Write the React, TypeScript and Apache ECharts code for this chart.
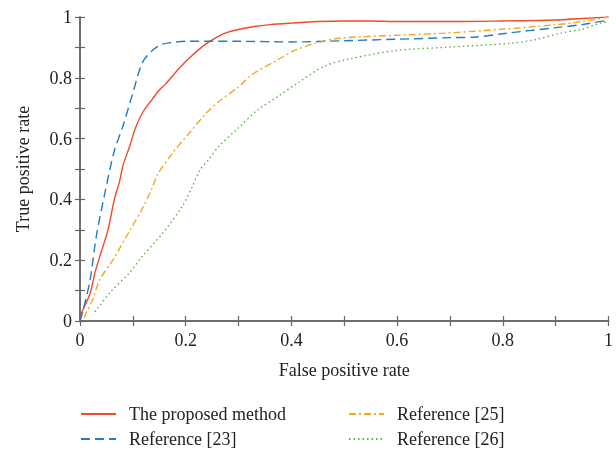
import React, { useEffect, useRef } from "react";
import * as echarts from "echarts";

const seriesNames = ["The proposed method", "Reference [23]", "Reference [25]", "Reference [26]"];

const proposedX = [0, 0.003, 0.019, 0.028, 0.037, 0.053, 0.065, 0.075, 0.081, 0.093, 0.106, 0.12, 0.137, 0.15, 0.162, 0.187, 0.21, 0.237, 0.26, 0.28, 0.324, 0.36, 0.4, 0.45, 0.5, 0.55, 0.6, 0.7, 0.8, 0.9, 0.95, 1];
const proposedY = [0.0, 0.026, 0.09, 0.157, 0.21, 0.3, 0.4, 0.46, 0.51, 0.57, 0.64, 0.69, 0.73, 0.76, 0.78, 0.83, 0.87, 0.91, 0.935, 0.95, 0.967, 0.975, 0.98, 0.985, 0.987, 0.987, 0.985, 0.985, 0.987, 0.99, 0.995, 1.0];

const ref23X = [0, 0.006, 0.019, 0.031, 0.047, 0.065, 0.081, 0.1, 0.118, 0.137, 0.155, 0.168, 0.2, 0.3, 0.4, 0.5, 0.6, 0.7, 0.75, 0.8, 0.9, 0.95, 1];
const ref23Y = [0, 0.036, 0.135, 0.28, 0.42, 0.56, 0.64, 0.75, 0.85, 0.89, 0.91, 0.915, 0.92, 0.92, 0.918, 0.922, 0.927, 0.932, 0.934, 0.945, 0.965, 0.975, 0.99];

const ref25X = [0.008, 0.0125, 0.025, 0.037, 0.062, 0.093, 0.118, 0.137, 0.146, 0.174, 0.206, 0.237, 0.262, 0.3, 0.324, 0.374, 0.407, 0.449, 0.49, 0.6, 0.69, 0.8, 0.897, 0.95, 0.985, 1];
const ref25Y = [0.01, 0.03, 0.075, 0.135, 0.2, 0.294, 0.37, 0.44, 0.48, 0.55, 0.617, 0.68, 0.721, 0.77, 0.809, 0.859, 0.891, 0.915, 0.93, 0.94, 0.947, 0.96, 0.974, 0.985, 0.995, 1.0];

const ref26X = [0.028, 0.031, 0.06, 0.093, 0.115, 0.156, 0.193, 0.212, 0.227, 0.243, 0.262, 0.299, 0.336, 0.374, 0.411, 0.461, 0.505, 0.598, 0.69, 0.817, 0.86, 0.91, 0.95, 0.985, 1];
const ref26Y = [0.03, 0.036, 0.1, 0.157, 0.207, 0.288, 0.376, 0.44, 0.497, 0.53, 0.573, 0.634, 0.694, 0.738, 0.782, 0.837, 0.86, 0.89, 0.9, 0.914, 0.925, 0.947, 0.96, 0.98, 0.985];

const colors = ["#ef4a2c", "#1f7dc6", "#f6a623", "#5ab443"];

const FONT = "Liberation Serif";

function pairs(xs: number[], ys: number[]) {
  return xs.map((x, i) => [x, ys[i]]);
}

function fmt(v: number) {
  const k = Math.round(v * 10);
  if (k % 2 !== 0) return "";
  if (k === 0) return "0";
  if (k === 10) return "1";
  return (k / 10).toFixed(1);
}

export default function App() {
  const ref = useRef<HTMLDivElement>(null);
  useEffect(() => {
    if (!ref.current) return;
    const chart = echarts.init(ref.current, null, { renderer: "svg" });
    const axisLine = { show: true, lineStyle: { color: "#666", width: 1.5 } };
    const axisTick = { show: true, inside: true, length: 5, lineStyle: { color: "#666", width: 1.2 } };
    const labelStyle = { color: "#222", fontFamily: FONT, fontSize: 18 };
    const dataSets = [
      pairs(proposedX, proposedY),
      pairs(ref23X, ref23Y),
      pairs(ref25X, ref25Y),
      pairs(ref26X, ref26Y),
    ];
    const types: any[] = ["solid", [9, 5], [7, 3, 2, 3], [1.5, 3]];
    const legendBase = {
      orient: "vertical",
      top: 405,
      height: 46,
      padding: 0,
      itemWidth: 35,
      itemHeight: 12,
      itemGap: 7,
      itemStyle: { opacity: 0 },
      textStyle: { ...labelStyle, padding: [0, 0, 0, 8] },
    };
    chart.setOption({
      animation: false,
      grid: { left: 80, right: 1, top: 17, bottom: 130, containLabel: false },
      legend: [
        { ...legendBase, data: seriesNames.slice(0, 2), left: 80 },
        { ...legendBase, data: seriesNames.slice(2, 4), left: 348 },
      ],
      xAxis: [
        {
          type: "value",
          min: 0,
          max: 1,
          interval: 0.1,
          position: "bottom",
          axisLine,
          axisTick,
          splitLine: { show: false },
          axisLabel: { ...labelStyle, margin: 10, formatter: fmt },
          name: "False positive rate",
          nameLocation: "middle",
          nameGap: 40,
          nameTextStyle: labelStyle,
        },
        {
          type: "value",
          min: 0,
          max: 1,
          interval: 0.1,
          position: "top",
          axisLine,
          axisTick,
          splitLine: { show: false },
          axisLabel: { show: false },
        },
      ],
      yAxis: [
        {
          type: "value",
          min: 0,
          max: 1,
          interval: 0.1,
          position: "left",
          axisLine,
          axisTick,
          splitLine: { show: false },
          axisLabel: { ...labelStyle, margin: 8, formatter: fmt },
          name: "True positive rate",
          nameLocation: "middle",
          nameGap: 48,
          nameTextStyle: labelStyle,
        },
        {
          type: "value",
          min: 0,
          max: 1,
          interval: 0.1,
          position: "right",
          axisLine,
          axisTick,
          splitLine: { show: false },
          axisLabel: { show: false },
        },
      ],
      series: seriesNames.map((name, i) => ({
        name,
        type: "line",
        data: dataSets[i],
        showSymbol: false,
        symbol: "none",
        smooth: 0.3,
        color: colors[i],
        lineStyle: { color: colors[i], width: 1.4, type: types[i] },
      })),
    });
    return () => chart.dispose();
  }, []);
  return <div ref={ref} style={{ position: "fixed", left: 0, top: 0, width: 616, height: 451 }} />;
}
